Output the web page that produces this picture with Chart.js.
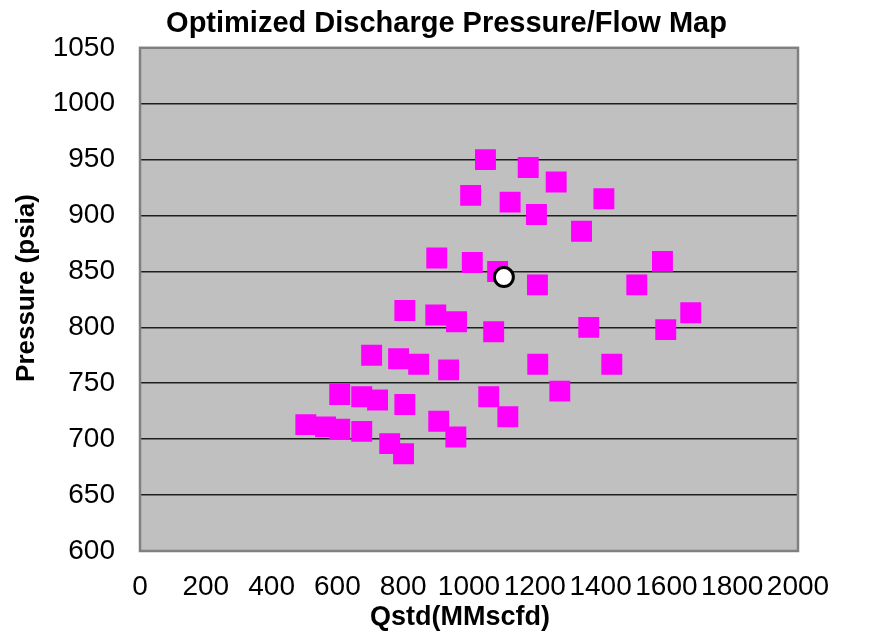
<!DOCTYPE html>
<html>
<head>
<meta charset="utf-8">
<title>Optimized Discharge Pressure/Flow Map</title>
<script src="https://cdn.jsdelivr.net/npm/chart.js@4"></script>
<style>
    body { margin: 0; background: #ffffff; }
    #wrap { width: 893px; height: 639px; }
</style>
</head>
<body>
<div id="wrap"><canvas id="map-chart" width="893" height="639"></canvas></div>
<script>
// Operating points
const flowQstd = [1050, 1180, 1265, 1005, 1125, 1205, 1410, 1342, 902, 1010, 1087, 1208, 1588, 1510,
    805, 899, 962, 1075, 1364, 1598, 1674, 704, 786, 847, 938, 1209, 1434, 1276, 607, 674, 722, 805,
    1060, 1118, 504, 564, 607, 674, 908, 960, 759, 801];
const pressurePsia = [950, 943, 930, 918, 912, 901, 915, 886, 862, 858, 850, 838, 859, 838,
    815, 811, 805, 796, 800, 798, 813, 775, 772, 767, 762, 767, 767, 743, 740, 738, 735, 731,
    738, 720, 713, 711, 709, 707, 716, 702, 696, 687];

// The optimized point (white circle)
const optQstd = [1106];
const optPressure = [845];

// Axis ranges / ticks
const xTicks = [0, 200, 400, 600, 800, 1000, 1200, 1400, 1600, 1800, 2000];
const yTicks = [600, 650, 700, 750, 800, 850, 900, 950, 1000, 1050];

const FONT = "'Liberation Sans', Arial, sans-serif";

function toPoints(xs, ys) {
    return xs.map((x, i) => ({ x: x, y: ys[i] }));
}

// Grey plot area with a grey frame
const plotArea = {
    id: 'plotArea',
    beforeDraw(chart) {
        const { ctx, chartArea: a } = chart;
        ctx.save();
        ctx.fillStyle = '#c0c0c0';
        ctx.fillRect(a.left, a.top, a.width, a.height);
        ctx.restore();
    },
    afterDatasetsDraw(chart) {
        const { ctx, chartArea: a } = chart;
        ctx.save();
        ctx.strokeStyle = '#808080';
        ctx.lineWidth = 2.5;
        ctx.strokeRect(a.left, a.top, a.width, a.height);
        ctx.restore();
    }
};

// Axis titles, placed like the original sheet (a bit off the plot centre)
const axisTitles = {
    id: 'axisTitles',
    afterDraw(chart) {
        const { ctx } = chart;
        ctx.save();
        ctx.fillStyle = '#000000';
        ctx.textAlign = 'center';
        ctx.textBaseline = 'middle';
        ctx.font = "bold 27px " + FONT;
        ctx.fillText('Qstd(MMscfd)', 460, 618);
        ctx.translate(27, 288);
        ctx.rotate(-Math.PI / 2);
        ctx.font = "bold 26px " + FONT;
        ctx.fillText('Pressure (psia)', 0, 0);
        ctx.restore();
    }
};

new Chart(document.getElementById('map-chart'), {
    type: 'scatter',
    data: {
        datasets: [{
            label: 'Optimized',
            data: toPoints(optQstd, optPressure),
            pointStyle: 'circle',
            pointRadius: 9.5,
            backgroundColor: '#ffffff',
            borderColor: '#000000',
            borderWidth: 3
        }, {
            label: 'Operating points',
            data: toPoints(flowQstd, pressurePsia),
            pointStyle: 'rect',
            pointRadius: 14.8,
            backgroundColor: '#ff00ff',
            borderColor: '#ff00ff',
            borderWidth: 0
        }]
    },
    options: {
        responsive: false,
        animation: false,
        layout: { padding: 0 },
        plugins: {
            legend: { display: false },
            tooltip: { enabled: false },
            title: {
                display: true,
                text: 'Optimized Discharge Pressure/Flow Map',
                color: '#000000',
                font: { family: FONT, size: 29, weight: 'bold' },
                padding: { top: 7, bottom: 6 }
            }
        },
        scales: {
            x: {
                type: 'linear',
                min: 0,
                max: 2000,
                afterBuildTicks: s => { s.ticks = xTicks.map(v => ({ value: v })); },
                afterFit: s => { s.height = 88; },
                grid: { display: false, drawTicks: false },
                border: { display: false },
                ticks: {
                    autoSkip: false,
                    maxRotation: 0,
                    padding: 19,
                    color: '#000000',
                    font: { family: FONT, size: 28 },
                    callback: v => String(v)
                }
            },
            y: {
                type: 'linear',
                min: 600,
                max: 1050,
                afterBuildTicks: s => { s.ticks = yTicks.map(v => ({ value: v })); },
                afterFit: s => { s.width = 140; },
                grid: {
                    drawTicks: false,
                    lineWidth: 1.6,
                    color: c => (c.tick && (c.tick.value === 600 || c.tick.value === 1050)) ? 'rgba(0,0,0,0)' : '#1e1e1e'
                },
                border: { display: false },
                ticks: {
                    padding: 25,
                    color: '#000000',
                    font: { family: FONT, size: 28 },
                    callback: v => String(v)
                }
            },
            // empty right-hand axis that keeps the gap on the right
            yRight: {
                type: 'linear',
                position: 'right',
                display: true,
                afterFit: s => { s.width = 95; },
                grid: { display: false, drawTicks: false },
                border: { display: false },
                ticks: { display: false }
            }
        }
    },
    plugins: [plotArea, axisTitles]
});
</script>
</body>
</html>
